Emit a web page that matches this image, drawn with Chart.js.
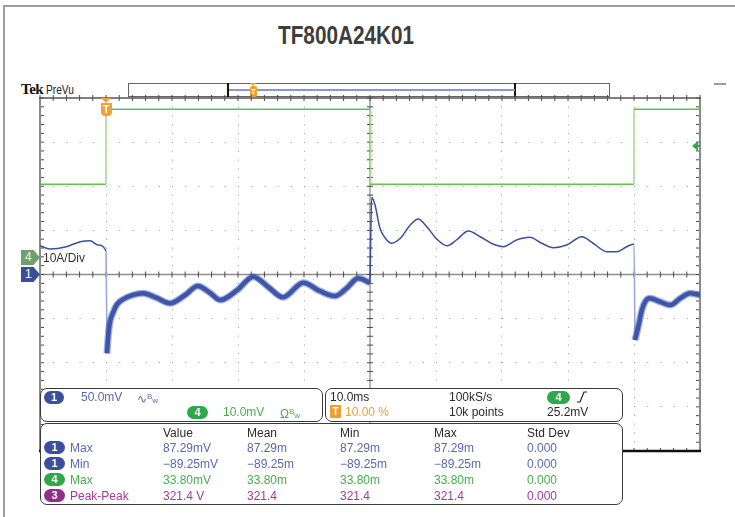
<!DOCTYPE html>
<html>
<head>
<meta charset="utf-8">
<script src="https://cdn.jsdelivr.net/npm/chart.js@4/dist/chart.umd.min.js"></script>
<style>
  html,body{margin:0;padding:0;background:#fff;}
  body{width:735px;height:517px;position:relative;overflow:hidden;font-family:"Liberation Sans",Arial,sans-serif;}
  #c{position:absolute;left:0;top:0;}
  .abs{position:absolute;white-space:nowrap;}
  .t{position:absolute;white-space:nowrap;font-size:12px;line-height:14px;}
  .badge{position:absolute;height:13px;border-radius:7px;color:#fff;font-size:11px;font-weight:bold;line-height:13px;text-align:center;}
  .box{position:absolute;background:#fff;border:1.5px solid #3a3a3a;border-radius:7px;box-sizing:border-box;}
  .blue{color:#5a68b4;} .green{color:#45b04b;} .purple{color:#a23c9c;} .dark{color:#2a2a2a;} .orange{color:#f0a030;}
</style>
</head>
<body>
<div class="abs" style="left:3px;top:5px;width:740px;height:520px;border-left:2px solid #9c9c9c;border-top:2px solid #9c9c9c;"></div>
<div class="abs" style="left:278px;top:21px;font-family:'Liberation Sans',Arial,sans-serif;font-weight:bold;font-size:25px;line-height:28px;color:#3d3d3d;transform:scaleX(0.83);transform-origin:0 0;">TF800A24K01</div>

<div class="abs" style="left:21px;top:81px;font-family:'Liberation Serif',serif;font-weight:bold;font-size:15px;color:#111;letter-spacing:-0.5px;">Tek</div>
<div class="abs" style="left:46px;top:83px;font-size:12px;color:#222;transform:scaleX(0.85);transform-origin:0 0;">PreVu</div>
<div class="abs" style="left:128px;top:83px;width:482px;height:14px;border:1.5px solid #666;box-sizing:border-box;"></div>
<div class="abs" style="left:227px;top:83px;width:289px;height:14px;border-left:2px solid #111;border-right:2px solid #111;box-sizing:border-box;"></div>
<div class="abs" style="left:229px;top:89px;width:286px;height:1.5px;background:#8a96d2;"></div>
<div class="abs" style="left:250px;top:83px;width:0;height:0;border-left:3.5px solid transparent;border-right:3.5px solid transparent;border-top:3px solid #f0a030;"></div>
<div class="abs" style="left:250px;top:86px;width:7px;height:11px;border-radius:2px;background:#f0a030;color:#fff;font-size:8px;line-height:11px;text-align:center;font-weight:bold;">T</div>
<div class="abs" style="left:714px;top:83px;width:12px;height:2px;background:#9a9a9a;"></div>

<canvas id="c" width="735" height="517"></canvas>
<div id="markers"></div>

<!-- info box 1 -->
<div class="box" style="left:40px;top:388px;width:283px;height:34px;"></div>
<div class="badge" style="left:44px;top:391px;width:20px;background:#3c4f9e;">1</div>
<div class="t blue" style="left:81px;top:390px;">50.0mV</div>
<div class="t blue" style="left:137px;top:390px;">∿<span style="font-size:8px;vertical-align:4px;">B</span><span style="font-size:8px;">w</span></div>
<div class="badge" style="left:187px;top:406px;width:21px;background:#2fa84c;">4</div>
<div class="t green" style="left:223px;top:405px;">10.0mV</div>
<div class="t green" style="left:280px;top:405px;">Ω<span style="font-size:8px;vertical-align:4px;">B</span><span style="font-size:8px;">w</span></div>

<!-- info box 2 -->
<div class="box" style="left:325px;top:388px;width:298px;height:34px;"></div>
<div class="t dark" style="left:330px;top:390px;">10.0ms</div>
<div class="abs" style="left:330px;top:405px;width:11px;height:13px;background:#f0a030;color:#fff;font-size:10px;font-weight:bold;line-height:13px;text-align:center;border-radius:1px;">T</div>
<div class="t orange" style="left:345px;top:405px;">10.00 %</div>
<div class="t dark" style="left:449px;top:390px;">100kS/s</div>
<div class="t dark" style="left:449px;top:405px;">10k points</div>
<div class="badge" style="left:547px;top:391px;width:23px;background:#2fa84c;">4</div>
<svg class="abs" style="left:576px;top:390px;" width="12" height="14"><polyline points="1,12 4,12 8,2 11,2" fill="none" stroke="#222" stroke-width="1.2"/></svg>
<div class="t dark" style="left:547px;top:405px;">25.2mV</div>

<!-- measurement table -->
<div class="box" style="left:40px;top:423px;width:583px;height:82px;"></div>
<div id="meas"></div>

<script>
// ---------------- data ----------------
// time in ms (10 ms/div, trigger at 0, 10% pre-trigger)
// Channel 1 (50 mV/div) – segments
const preTime = [-10, -8.5, -6.0, -3.9, -2.4, -1.2, 0.0];
const preMv   = [32.6, 28.9, 31.5, 37.2, 38.3, 33.4, 26.6];

const onTime = [0.15, 0.35, 0.6, 1.05, 1.6, 2.4, 4.1, 5.6, 7.7, 9.7, 12.0, 13.9, 15.8, 17.3, 19.9, 22.3, 24.6, 26.8, 29.9, 32.4, 34.7, 36.5, 38.2, 40.0];
const onMv   = [-89.25, -68.6, -53.8, -43.6, -34.6, -28.9, -23.2, -21.3, -26.6, -32.6, -23.2, -13.0, -21.0, -28.9, -17.6, -2.5, -14.2, -25.8, -9.3, -18.7, -24.4, -15.3, -4.3, -9.3];

const offTime = [40.0, 40.26, 40.76, 41.5, 42.3, 43.3, 44.6, 46.1, 47.3, 48.6, 50.1, 51.7, 53.1, 54.9, 56.7, 58.7, 60.2, 62.2, 64.2, 66.0, 67.8, 69.8, 72.1, 73.8, 75.9, 77.4, 78.9, 80.0];
const offMv   = [-9.3, 87.29, 78.8, 52.7, 41.4, 35.4, 41.0, 56.1, 62.9, 54.2, 40.2, 32.6, 39.1, 49.3, 42.8, 34.2, 31.5, 39.1, 42.2, 35.4, 30.4, 33.4, 42.8, 35.4, 25.8, 25.8, 31.5, 34.6];

const on2Time = [80.15, 80.65, 81.2, 81.7, 82.4, 83.9, 85.5, 87.0, 88.5, 90.0];
const on2Mv   = [-74.2, -59.1, -40.2, -30.8, -27.0, -30.8, -34.6, -27.0, -21.3, -23.2];

// Channel 4 (10 A/div)
const ch4Time = [-10, 0, 0, 40.1, 40.1, 80, 80, 90];
const ch4Amps = [16.6, 16.6, 33.6, 33.6, 16.6, 16.6, 33.6, 33.6];
const ch4TriggerLevel = 25.2;

// measurement table
const measHeaders = ["Value", "Mean", "Min", "Max", "Std Dev"];
const measSources = ["1", "1", "4", "3"];
const measNames   = ["Max", "Min", "Max", "Peak-Peak"];
const measValue   = ["87.29mV", "\u221289.25mV", "33.80mV", "321.4 V"];
const measMean    = ["87.29m", "\u221289.25m", "33.80m", "321.4"];
const measMin     = ["87.29m", "\u221289.25m", "33.80m", "321.4"];
const measMax     = ["87.29m", "\u221289.25m", "33.80m", "321.4"];
const measStd     = ["0.000", "0.000", "0.000", "0.000"];

// ---------------- scale setup ----------------
const timeMin = -10, timeMax = 90, timeDiv = 10;
const ch1Div = 50, ch4Div = 10, ch4OffsetDiv = 0.385;
const pts = (t, v) => t.map((x, i) => ({x, y: v[i]}));

const thinA = pts(preTime, preMv).concat(pts(onTime.slice(0,1), onMv.slice(0,1)));
const thinB = pts(offTime, offMv).concat(pts(on2Time.slice(0,1), on2Mv.slice(0,1)));

const dark = '#3b4fa0', light = '#97a6da';
const dropColor = c => (c.p1.y - c.p0.y > 25 && Math.abs(c.p1.x - c.p0.x) < 3) ? light : dark;
const edgeGreen = c => (Math.abs(c.p1.x - c.p0.x) < 1.5) ? '#a9dc9b' : '#66bd50';

const xCenter = (timeMin + timeMax) / 2;
const graticule = {
  id: 'graticule',
  beforeDatasetsDraw(chart) {
    const {ctx, chartArea: a, scales: {x, y1}} = chart;
    const L = a.left, R = a.right, T = a.top, B = a.bottom;
    const cx = x.getPixelForValue(xCenter), cy = y1.getPixelForValue(0);
    const mx = [], my = [];
    for (let v = x.min; v <= x.max + 1e-6; v += timeDiv / 5) mx.push(x.getPixelForValue(v));
    for (let v = y1.min; v <= y1.max + 1e-6; v += ch1Div / 5) my.push(y1.getPixelForValue(v));
    const seg = (x1, ya, x2, yb) => { ctx.beginPath(); ctx.moveTo(x1, ya); ctx.lineTo(x2, yb); ctx.stroke(); };
    ctx.save();
    ctx.strokeStyle = '#8e8e8e'; ctx.lineWidth = 1.3;
    seg(L, cy, R, cy); seg(cx, T, cx, B);
    ctx.strokeStyle = '#4a4a4a'; ctx.lineWidth = 1;
    mx.forEach(px => { seg(px, cy - 3, px, cy + 3); seg(px, T - 3, px, T + 3); seg(px, B - 3, px, B); });
    my.forEach(py => { seg(cx - 3, py, cx + 3, py); seg(L, py, L + 4, py); seg(R - 4, py, R, py); });
    ctx.strokeStyle = '#8a8a8a'; ctx.lineWidth = 2;
    seg(L, T, L, B); seg(R, T, R, B);
    ctx.strokeStyle = '#555'; ctx.lineWidth = 1.5; seg(L - 1, T, R + 1, T);
    ctx.strokeStyle = '#111'; ctx.lineWidth = 2.5; seg(L - 1, B, R + 1, B);
    ctx.restore();
  }
};

const gridColor = (hide) => (c) => (c.tick && hide.includes(c.tick.value)) ? 'rgba(0,0,0,0)' : '#9a9a9a';
const smooth = {cubicInterpolationMode: 'monotone'};

const chart = new Chart(document.getElementById('c'), {
  type: 'line',
  data: {
    datasets: [
      {label: 'CH4', data: pts(ch4Time, ch4Amps), yAxisID: 'y4', borderColor: '#66bd50', borderWidth: 1.6, segment: {borderColor: edgeGreen}},
      {label: 'CH1 band', data: pts(onTime, onMv), yAxisID: 'y1', borderColor: 'rgba(70,92,175,0.5)', borderWidth: 7, ...smooth},
      {label: 'CH1 band 2', data: pts(on2Time, on2Mv), yAxisID: 'y1', borderColor: 'rgba(70,92,175,0.5)', borderWidth: 7, ...smooth},
      {label: 'CH1 on', data: pts(onTime, onMv), yAxisID: 'y1', borderColor: '#3350a6', borderWidth: 4.5, ...smooth},
      {label: 'CH1 on 2', data: pts(on2Time, on2Mv), yAxisID: 'y1', borderColor: '#3350a6', borderWidth: 4.5, ...smooth},
      {label: 'CH1 pre', data: thinA, yAxisID: 'y1', borderColor: dark, borderWidth: 1.5, segment: {borderColor: dropColor}, ...smooth},
      {label: 'CH1 off', data: thinB, yAxisID: 'y1', borderColor: dark, borderWidth: 1.5, segment: {borderColor: dropColor}, ...smooth}
    ]
  },
  options: {
    responsive: false, animation: false, devicePixelRatio: 1,
    layout: {padding: {left: 40, top: 98, right: 35, bottom: 66}},
    plugins: {legend: {display: false}, tooltip: {enabled: false}},
    elements: {point: {radius: 0}, line: {tension: 0, borderJoinStyle: 'round', borderCapStyle: 'butt'}},
    scales: {
      x: {type: 'linear', min: timeMin, max: timeMax,
          ticks: {display: false, stepSize: timeDiv},
          grid: {drawTicks: false, lineWidth: 1, color: gridColor([timeMin, timeMax, xCenter])},
          border: {display: false, dash: [1, 7.8]}},
      y1: {type: 'linear', position: 'left', min: -4 * ch1Div, max: 4 * ch1Div,
          ticks: {display: false, stepSize: ch1Div},
          grid: {drawTicks: false, lineWidth: 1, color: gridColor([-4 * ch1Div, 0, 4 * ch1Div])},
          border: {display: false, dash: [1, 12.2]}},
      y4: {type: 'linear', display: false, min: (-4 - ch4OffsetDiv) * ch4Div, max: (4 - ch4OffsetDiv) * ch4Div}
    }
  },
  plugins: [graticule]
});

// ---------------- markers tied to scales ----------------
const mk = document.getElementById('markers');
function add(html) { mk.insertAdjacentHTML('beforeend', html); }
const sx = chart.scales.x, s1 = chart.scales.y1, s4 = chart.scales.y4;
const g1 = s1.getPixelForValue(0), g4 = s4.getPixelForValue(0), tx = sx.getPixelForValue(0), tl = s4.getPixelForValue(ch4TriggerLevel);
const area = chart.chartArea;
const pent = 'clip-path:polygon(0 0,66% 0,100% 50%,66% 100%,0 100%);';
add(`<div class="abs" style="left:21px;top:${g1 - 7.5}px;width:19px;height:15px;background:#3a4e9c;${pent}color:#fff;font-size:12px;line-height:15px;text-indent:4px;">1</div>`);
add(`<div class="abs" style="left:21px;top:${g4 - 7.5}px;width:19px;height:15px;background:#6f9f70;${pent}color:#e8f2e8;font-size:12px;line-height:15px;text-indent:4px;">4</div>`);
add(`<div class="t" style="left:43px;top:${g4 - 7}px;color:#333;">10A/Div</div>`);
add(`<div class="abs" style="left:${tx - 5}px;top:${area.top}px;width:0;height:0;border-left:5px solid transparent;border-right:5px solid transparent;border-top:5px solid #f5a030;"></div>`);
add(`<div class="abs" style="left:${tx - 5.5}px;top:${area.top + 5}px;width:11px;height:13px;background:#f5a030;border-radius:0 0 4px 4px;color:#fff;font-size:11px;font-weight:bold;line-height:13px;text-align:center;">T</div>`);
add(`<div class="abs" style="left:${area.right - 8}px;top:${tl - 5}px;width:0;height:0;border-top:5px solid transparent;border-bottom:5px solid transparent;border-right:6px solid #2ea84a;"></div>`);
add(`<div class="abs" style="left:${area.right - 3}px;top:${tl - 1}px;width:3px;height:2px;background:#2ea84a;"></div>`);

// ---------------- measurement table ----------------
const mt = document.getElementById('meas');
const colX = [163, 247, 340, 434, 527];
const rowY = [448, 464, 480, 496];
const srcCls = {"1": ["blue", "#3c4f9e"], "4": ["green", "#2fa84c"], "3": ["purple", "#8e2f8c"]};
measHeaders.forEach((h, i) => mt.insertAdjacentHTML('beforeend', `<div class="t dark" style="left:${colX[i]}px;top:426px;">${h}</div>`));
measNames.forEach((n, r) => {
  const [cls, bg] = srcCls[measSources[r]];
  const y = rowY[r] - 7;
  mt.insertAdjacentHTML('beforeend', `<div class="badge" style="left:44px;top:${y}px;width:21px;background:${bg};">${measSources[r]}</div>`);
  mt.insertAdjacentHTML('beforeend', `<div class="t ${cls}" style="left:70px;top:${y}px;">${n}</div>`);
  [measValue, measMean, measMin, measMax, measStd].forEach((col, c) =>
    mt.insertAdjacentHTML('beforeend', `<div class="t ${cls}" style="left:${colX[c]}px;top:${y}px;">${col[r]}</div>`));
});
</script>
</body>
</html>
